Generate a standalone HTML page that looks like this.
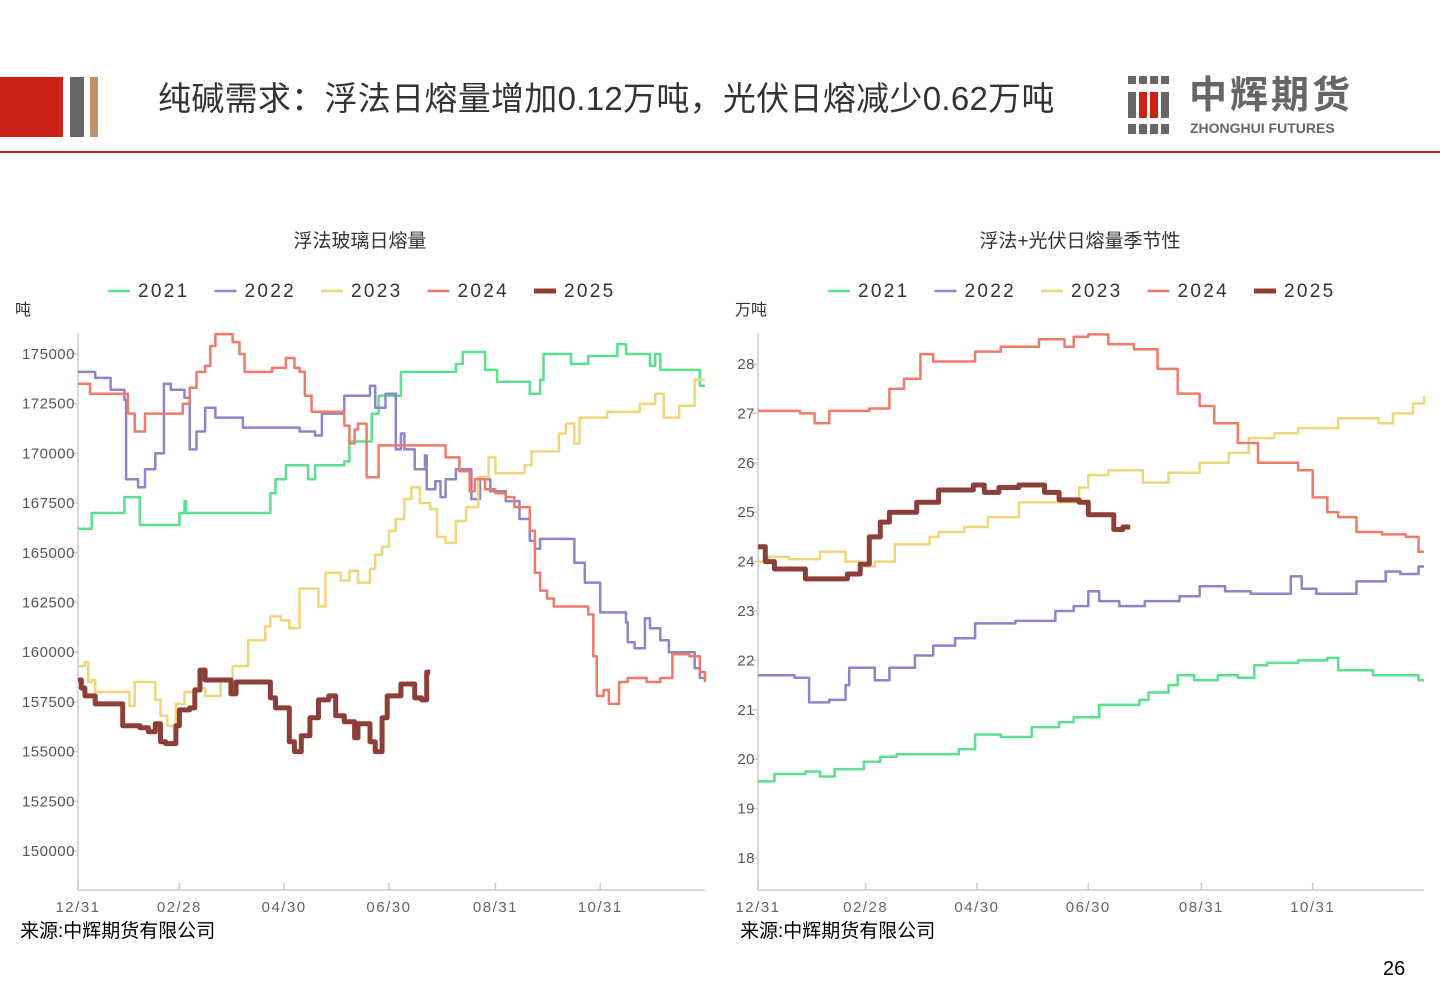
<!DOCTYPE html>
<html><head><meta charset="utf-8">
<style>
body{margin:0;width:1440px;height:1008px;background:#fff;overflow:hidden;font-family:"Liberation Sans","Noto Sans CJK SC",sans-serif;position:relative}
.abs{position:absolute}
</style></head><body>
<div class="abs" style="left:0;top:77px;width:63px;height:60px;background:#cc2318"></div>
<div class="abs" style="left:70px;top:77px;width:14px;height:60px;background:#666"></div>
<div class="abs" style="left:90px;top:77px;width:8px;height:60px;background:#c0916a"></div>
<div class="abs" style="left:158px;top:72px;font-size:33px;letter-spacing:0.3px;color:#333;white-space:nowrap">纯碱需求：浮法日熔量增加0.12万吨，光伏日熔减少0.62万吨</div>
<div class="abs" style="left:1128px;top:74px;width:230px;height:64px">
  <svg width="50" height="62" class="abs" style="left:0;top:0">
    <g fill="#666"><rect x="0" y="2" width="8" height="8"/><rect x="11" y="2" width="8" height="8"/><rect x="22" y="2" width="8" height="8"/><rect x="33" y="2" width="8" height="8"/>
    <rect x="0" y="50" width="8" height="10"/><rect x="11" y="50" width="8" height="10"/><rect x="22" y="50" width="8" height="10"/><rect x="33" y="50" width="8" height="10"/>
    <rect x="0" y="18" width="8" height="26"/><rect x="33" y="18" width="8" height="26"/></g>
    <g fill="#cc2318"><rect x="11" y="18" width="8" height="26"/><rect x="22" y="18" width="8" height="26"/></g>
  </svg>
  <div class="abs" style="left:61px;top:0px;font-size:38px;line-height:44px;font-weight:bold;color:#666;letter-spacing:3px;white-space:nowrap">中辉期货</div>
  <div class="abs" style="left:62px;top:46px;font-size:14px;line-height:16px;font-weight:bold;color:#666;white-space:nowrap">ZHONGHUI FUTURES</div>
</div>
<div class="abs" style="left:0;top:151px;width:1440px;height:2px;background:#c0282a"></div>

<svg id="chart" class="abs" style="left:0;top:0" width="1440" height="1008"></svg>

<div class="abs" style="left:20px;top:916px;font-size:19px;color:#000">来源:中辉期货有限公司</div>
<div class="abs" style="left:740px;top:916px;font-size:19px;color:#000">来源:中辉期货有限公司</div>
<div class="abs" style="left:1383px;top:958px;font-size:20px;color:#000">26</div>

<script>
const years=["2021","2022","2023","2024","2025"];
const colors=["#5ae08e","#8a86c8","#f0d67a","#f07a6a","#8b3f38"];
const xTickDays=[0,59,120,181,243,304];
const xTickLabels=["12/31","02/28","04/30","06/30","08/31","10/31"];
const leftTicks=[150000,152500,155000,157500,160000,162500,165000,167500,170000,172500,175000];
const rightTicks=[18,19,20,21,22,23,24,25,26,27,28];
const L2021=[[0,166200],[8,167000],[27,167800],[36,166400],[59,167000],[62,167600],[63,167000],[112,168000],[115,168700],[121,169400],[134,168700],[138,169400],[155,169600],[158,170600],[171,172000],[175,172900],[188,174100],[220,174500],[224,175100],[237,174200],[244,173600],[263,173000],[269,173700],[271,175000],[287,174500],[297,174900],[314,175500],[319,175000],[333,174400],[336,175000],[339,174200],[362,173400],[365,173400]];
const L2022=[[0,174100],[10,173800],[19,173200],[27,172700],[28,168700],[35,168300],[39,169200],[45,170000],[50,173500],[54,173200],[62,172800],[65,170200],[69,171100],[74,172300],[80,171800],[96,171300],[129,171100],[138,170900],[142,172000],[155,172900],[170,173400],[173,172300],[179,173000],[185,170200],[188,171000],[190,170200],[196,169200],[202,169900],[203,168200],[208,168600],[211,167800],[214,168700],[220,169200],[228,169200],[229,167700],[234,168700],[240,168100],[249,167600],[257,166700],[263,165600],[266,165200],[269,165700],[287,165700],[289,164500],[295,163500],[304,162000],[319,161500],[320,160500],[324,160200],[330,161700],[333,161200],[339,160600],[344,160000],[359,159200],[362,158700],[365,158700]];
const L2023=[[0,159300],[4,159500],[6,158500],[8,158600],[10,158000],[27,158000],[30,157300],[33,158500],[42,158500],[45,157600],[48,156800],[52,156300],[57,157400],[62,158000],[68,158200],[74,157800],[83,158600],[90,159300],[99,160600],[109,161300],[112,161800],[118,161600],[123,161200],[129,163200],[140,162300],[144,164000],[153,163600],[158,164100],[163,163500],[170,164200],[173,164900],[177,165300],[181,166100],[185,166700],[190,167700],[194,168300],[199,167500],[205,167200],[209,165800],[214,165500],[220,166600],[226,167300],[233,168800],[239,169800],[243,169000],[254,169000],[260,169400],[264,170100],[280,171000],[284,171500],[289,170500],[292,171800],[304,171800],[308,172100],[327,172500],[336,173000],[341,171800],[350,172400],[359,173700],[365,173700]];
const L2024=[[0,173500],[7,173000],[27,173000],[29,172000],[33,171100],[39,172000],[58,172000],[61,172500],[65,173300],[69,174100],[74,174400],[77,175400],[80,176000],[90,175600],[94,175000],[97,174100],[113,174300],[121,174800],[126,174300],[129,174100],[132,172900],[136,172100],[155,171400],[158,170500],[161,171200],[163,171500],[168,168800],[175,170400],[211,170400],[214,169800],[222,169100],[228,168100],[231,168700],[237,168200],[243,168000],[249,167800],[254,167300],[263,166100],[266,164000],[269,163100],[273,162700],[277,162300],[297,161900],[300,159800],[302,157800],[306,158100],[309,157400],[315,158500],[320,158700],[331,158500],[339,158700],[346,159900],[356,159800],[362,159000],[365,158500]];
const L2025=[[0,158600],[2,158200],[4,157800],[10,157400],[26,156300],[36,156200],[41,156000],[45,156400],[48,155500],[51,155400],[57,156300],[59,157100],[65,157200],[68,158100],[71,159100],[74,158600],[86,158600],[89,157900],[92,158500],[109,158500],[112,157700],[115,157200],[123,155500],[126,155000],[130,155800],[135,156700],[140,157600],[146,157800],[150,156800],[155,156500],[161,155700],[163,156400],[170,155500],[173,155000],[177,156700],[180,157800],[188,158400],[196,157700],[200,157600],[203,159000],[205,159000]];
const R2021=[[0,19.55],[9,19.7],[26,19.75],[34,19.65],[42,19.8],[58,19.95],[67,20.05],[76,20.1],[110,20.2],[119,20.5],[133,20.45],[150,20.65],[165,20.75],[173,20.85],[187,21.1],[209,21.2],[214,21.35],[225,21.5],[230,21.7],[239,21.6],[252,21.7],[263,21.65],[272,21.9],[279,21.95],[296,22.0],[312,22.05],[318,21.8],[337,21.7],[362,21.6],[365,21.6]];
const R2022=[[0,21.7],[20,21.65],[28,21.15],[39,21.2],[48,21.5],[50,21.85],[64,21.6],[72,21.85],[86,22.1],[96,22.3],[108,22.45],[119,22.75],[141,22.8],[163,23.0],[173,23.1],[181,23.4],[187,23.2],[198,23.1],[212,23.2],[231,23.3],[242,23.5],[256,23.4],[270,23.35],[292,23.7],[298,23.45],[306,23.35],[328,23.6],[344,23.8],[352,23.75],[362,23.9],[365,23.9]];
const R2023=[[0,24.0],[6,24.1],[17,24.05],[34,24.2],[48,24.0],[56,23.9],[64,24.0],[75,24.35],[94,24.5],[99,24.6],[113,24.7],[126,24.9],[143,25.2],[165,25.2],[176,25.5],[181,25.75],[192,25.85],[211,25.6],[225,25.8],[242,26.0],[258,26.2],[269,26.5],[283,26.6],[296,26.7],[318,26.9],[340,26.8],[348,27.0],[359,27.2],[365,27.35]];
const R2024=[[0,27.05],[23,27.0],[31,26.8],[39,27.05],[61,27.1],[72,27.5],[80,27.7],[89,28.2],[96,28.05],[119,28.25],[133,28.35],[154,28.5],[168,28.35],[173,28.55],[181,28.6],[192,28.4],[206,28.3],[219,27.9],[230,27.4],[242,27.15],[250,26.8],[263,26.4],[274,26.0],[296,25.85],[304,25.3],[312,25.0],[318,24.9],[328,24.6],[342,24.55],[355,24.5],[362,24.2],[365,24.2]];
const R2025=[[0,24.3],[4,24.0],[9,23.85],[23,23.85],[26,23.65],[45,23.65],[49,23.75],[56,23.95],[61,24.5],[67,24.8],[72,25.0],[83,25.0],[87,25.2],[99,25.45],[118,25.55],[124,25.4],[132,25.5],[143,25.55],[157,25.4],[165,25.25],[176,25.2],[181,24.95],[190,24.95],[195,24.65],[200,24.7],[204,24.7]];

const svg=document.getElementById('chart');
const NS='http://www.w3.org/2000/svg';
function mk(tag,attrs,parent){const e=document.createElementNS(NS,tag);for(const k in attrs)e.setAttribute(k,attrs[k]);(parent||svg).appendChild(e);return e;}

function drawChart(cfg){
  const g=mk('g',{});
  
  
  const xs=d=>cfg.x0+d*(cfg.x1-cfg.x0)/365;
  const ys=v=>cfg.yA+(v-cfg.vA)*(cfg.yB-cfg.yA)/(cfg.vB-cfg.vA);
  const t=mk('text',{x:cfg.cx,y:247,'text-anchor':'middle','font-size':19,fill:'#333'},g);t.textContent=cfg.title;
  
  const u=mk('text',{x:cfg.ux,y:315,'font-size':16,fill:'#333'},g);u.textContent=cfg.unit;
  
  years.forEach((yr,i)=>{
    const lx=cfg.lx+i*106.5;
    const le=mk('g',{},g);
    
    
    mk('line',{x1:lx,y1:291,x2:lx+22,y2:291,stroke:colors[i],'stroke-width':i==4?5:2.5},le);
    const tx=mk('text',{x:lx+30,y:297,'font-size':19,fill:'#333','letter-spacing':'2.3'},le);tx.textContent=yr;
  });
  mk('line',{x1:cfg.x0,y1:333,x2:cfg.x0,y2:890,stroke:'#ccc','stroke-width':1.5},g);
  mk('line',{x1:cfg.x0,y1:890,x2:cfg.x1,y2:890,stroke:'#ccc','stroke-width':1.5},g);
  cfg.ticks.forEach(v=>{
    const y=ys(v);
    mk('line',{x1:cfg.x0-6,y1:y,x2:cfg.x0,y2:y,stroke:'#ccc','stroke-width':1.5},g);
    const tl=mk('text',{x:cfg.x0-3,y:y+5,'text-anchor':'end','font-size':15,fill:'#555','letter-spacing':'0.5'},g);tl.textContent=v;
    
  });
  xTickDays.forEach((d,i)=>{
    const x=xs(d);
    mk('line',{x1:x,y1:883,x2:x,y2:890,stroke:'#ccc','stroke-width':1.5},g);
    const tl=mk('text',{x:x,y:912,'text-anchor':'middle','font-size':15,fill:'#666','letter-spacing':'1.5'},g);tl.textContent=xTickLabels[i];
    
  });
  cfg.series.forEach((s,i)=>{
    let d='M'+xs(s[0][0]).toFixed(1)+','+ys(s[0][1]).toFixed(1);
    for(let k=1;k<s.length;k++){d+=' H'+xs(s[k][0]).toFixed(1)+' V'+ys(s[k][1]).toFixed(1);}
    const p=mk('path',{d:d,fill:'none',stroke:colors[i],'stroke-width':i==4?5:2.5,'stroke-linejoin':'round'},g);
    
    
  });
}
drawChart({name:'float-glass-chart',title:'浮法玻璃日熔量',unit:'吨',cx:360,ux:15,lx:108,x0:78,x1:705,vA:150000,yA:851,vB:175000,yB:354,ticks:leftTicks,series:[L2021,L2022,L2023,L2024,L2025]});
drawChart({name:'float-pv-chart',title:'浮法+光伏日熔量季节性',unit:'万吨',cx:1080,ux:735,lx:828,x0:758,x1:1424,vA:18,yA:858,vB:28,yB:364,ticks:rightTicks,series:[R2021,R2022,R2023,R2024,R2025]});
</script>
</body></html>
